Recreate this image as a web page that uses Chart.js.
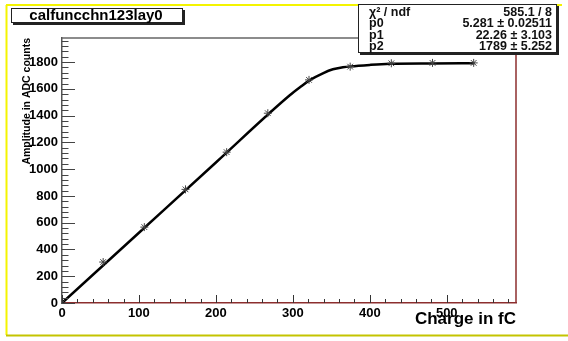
<!DOCTYPE html>
<html>
<head>
<meta charset="utf-8">
<script src="https://cdn.jsdelivr.net/npm/chart.js@4/dist/chart.umd.min.js"></script>
<style>
html,body{margin:0;padding:0;background:#fff;}
canvas{display:block;}
</style>
</head>
<body>
<canvas id="c" width="568" height="341"></canvas>
<script>
// ---- data ----
const chargeFC      = [0, 53.5, 107, 160.5, 214, 267.5, 321, 374.5, 428, 481.5, 535];
const amplitudeADC  = [0, 306, 567, 849, 1127, 1418, 1667, 1766, 1791, 1794, 1794];
// fit curve
const fitChargeFC   = [0, 100, 200, 296, 310, 322, 339, 352, 365, 375, 400, 426, 480, 536];
const fitAmplitude  = [0, 525, 1050, 1552, 1615, 1665, 1716, 1746, 1761, 1768, 1779, 1787, 1790, 1791];
// axis ticks
const xMajorTicks = [0, 100, 200, 300, 400, 500];
const yMajorTicks = [0, 200, 400, 600, 800, 1000, 1200, 1400, 1600, 1800];
const xMinorStep = 20, yMinorStep = 40;
const xRange = [0, 590], yRange = [0, 1980];
// texts
const histTitle = 'calfuncchn123lay0';
const xTitle = 'Charge in fC';
const yTitle = 'Amplitude in ADC counts';
const statLabels = ['\u03C7\u00B2 / ndf', 'p0', 'p1', 'p2'];
const statValues = ['585.1 / 8', '5.281 \u00B1 0.02511', '22.26 \u00B1 3.103', '1789 \u00B1 5.252'];

const FONT = '"Liberation Sans", Arial, Helvetica, sans-serif';
Chart.defaults.font.family = FONT;
Chart.defaults.color = '#000';

const rootPlugin = {
  id: 'rootLook',
  beforeDraw(chart) {
    const ctx = chart.ctx;
    ctx.save();
    ctx.fillStyle = '#fff';
    ctx.fillRect(0, 0, chart.width, chart.height);
    // yellow canvas frame
    ctx.lineWidth = 2;
    ctx.strokeStyle = '#f4f400';
    ctx.beginPath(); ctx.moveTo(6, 5); ctx.lineTo(562, 5); ctx.stroke();
    ctx.beginPath(); ctx.moveTo(6.5, 5); ctx.lineTo(6.5, 335); ctx.stroke();
    ctx.strokeStyle = '#c4c400';
    ctx.beginPath(); ctx.moveTo(6, 335.5); ctx.lineTo(568, 335.5); ctx.stroke();
    ctx.restore();
  },
  afterDraw(chart) {
    const ctx = chart.ctx;
    const a = chart.chartArea;
    const xs = chart.scales.x, ys = chart.scales.y;
    ctx.save();
    // top and right frame
    ctx.lineWidth = 1.5;
    ctx.strokeStyle = '#666';
    ctx.beginPath(); ctx.moveTo(a.left, a.top); ctx.lineTo(a.right, a.top); ctx.stroke();
    ctx.strokeStyle = '#8c2e2e';
    ctx.beginPath(); ctx.moveTo(a.right, a.top); ctx.lineTo(a.right, a.bottom); ctx.stroke();
    // inward ticks on y axis
    ctx.lineWidth = 1;
    ctx.strokeStyle = '#444';
    for (let v = yRange[0]; v <= yRange[1]; v += yMinorStep) {
      const y = Math.round(ys.getPixelForValue(v)) + 0.5;
      const len = yMajorTicks.includes(v) ? 13 : 6.5;
      ctx.beginPath(); ctx.moveTo(a.left, y); ctx.lineTo(a.left + len, y); ctx.stroke();
    }
    // inward ticks on x axis
    ctx.strokeStyle = '#333';
    for (let v = xRange[0]; v <= xRange[1]; v += xMinorStep) {
      const x = Math.round(xs.getPixelForValue(v)) + 0.5;
      const len = xMajorTicks.includes(v) ? 8 : 4;
      ctx.beginPath(); ctx.moveTo(x, a.bottom); ctx.lineTo(x, a.bottom - len); ctx.stroke();
    }
    // title box
    ctx.fillStyle = '#222';
    ctx.fillRect(13, 10, 172, 15);
    ctx.fillStyle = '#fff';
    ctx.fillRect(11, 8, 172, 15);
    ctx.strokeStyle = '#222';
    ctx.lineWidth = 1;
    ctx.strokeRect(11.5, 8.5, 171, 14);
    ctx.fillStyle = '#000';
    ctx.font = 'bold 15px ' + FONT;
    ctx.textAlign = 'center';
    ctx.textBaseline = 'middle';
    ctx.fillText(histTitle, 96, 16);
    // stats box
    ctx.fillStyle = '#222';
    ctx.fillRect(360, 6, 199, 49);
    ctx.fillStyle = '#fff';
    ctx.fillRect(358, 4, 199, 49);
    ctx.strokeRect(358.5, 4.5, 198, 48);
    ctx.fillStyle = '#111';
    ctx.font = 'bold 12.5px ' + FONT;
    const rows = [12.5, 24, 35.5, 47];
    for (let i = 0; i < statLabels.length; i++) {
      ctx.textAlign = 'left';
      ctx.fillText(statLabels[i], 369, rows[i]);
      ctx.textAlign = 'right';
      ctx.fillText(statValues[i], 552, rows[i]);
    }
    ctx.restore();
  }
};

new Chart(document.getElementById('c'), {
  type: 'scatter',
  data: {
    datasets: [
      {
        label: 'data',
        data: chargeFC.map((x, i) => ({x: x, y: amplitudeADC[i]})),
        pointStyle: 'star',
        pointRadius: 4,
        borderColor: '#444',
        backgroundColor: '#444',
        pointBorderWidth: 1,
        showLine: false
      },
      {
        label: 'fit',
        data: fitChargeFC.map((x, i) => ({x: x, y: fitAmplitude[i]})),
        showLine: true,
        pointRadius: 0,
        borderColor: '#000',
        borderWidth: 2.5,
        cubicInterpolationMode: 'monotone',
        fill: false
      }
    ]
  },
  options: {
    responsive: false,
    animation: false,
    devicePixelRatio: 1,
    layout: {padding: {left: 0, top: 38, right: 52, bottom: 0}},
    plugins: {legend: {display: false}, tooltip: {enabled: false}, title: {display: false}},
    scales: {
      x: {
        type: 'linear',
        min: xRange[0], max: xRange[1],
        afterFit: s => { s.height = 38; },
        afterBuildTicks: s => { s.ticks = xMajorTicks.map(v => ({value: v})); },
        grid: {display: true, drawOnChartArea: false, drawTicks: false},
        border: {display: true, color: '#8c2e2e', width: 1.5},
        ticks: {font: {size: 13, weight: 'bold'}, color: '#000', padding: 3, maxRotation: 0, autoSkip: false,
                callback: v => String(v)},
        title: {display: true, text: xTitle, align: 'end', color: '#000',
                font: {size: 17, weight: 'bold'}, padding: {top: 0, bottom: 11}}
      },
      y: {
        type: 'linear',
        min: yRange[0], max: yRange[1],
        afterFit: s => { s.width = 62; },
        afterBuildTicks: s => { s.ticks = yMajorTicks.map(v => ({value: v})); },
        grid: {display: true, drawOnChartArea: false, drawTicks: false},
        border: {display: true, color: '#555', width: 1.5},
        ticks: {font: {size: 13, weight: 'bold'}, color: '#000', padding: 4, autoSkip: false,
                callback: v => String(v)},
        title: {display: true, text: yTitle, align: 'end', color: '#000',
                font: {size: 10.5, weight: 'bold'}, padding: {top: 21, bottom: 0}}
      }
    }
  },
  plugins: [rootPlugin]
});
</script>
</body>
</html>
